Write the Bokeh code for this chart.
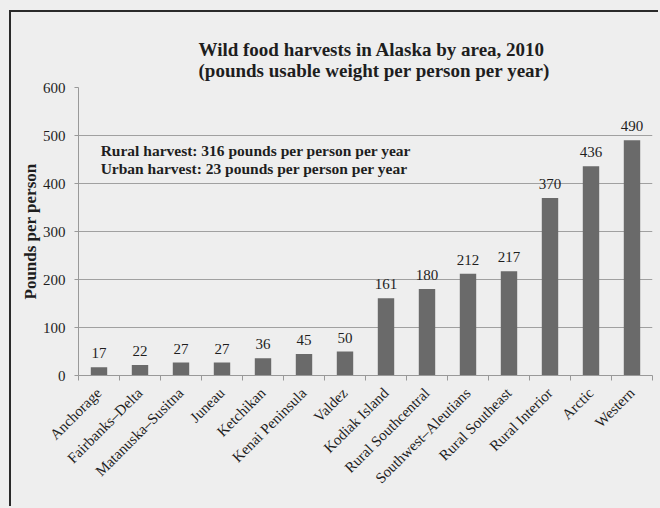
import math
from bokeh.plotting import figure
from bokeh.models import ColumnDataSource, Range1d, FixedTicker, Label, LabelSet, Title
from bokeh.embed import file_html
from bokeh.resources import INLINE

areas = ["Anchorage", "Fairbanks\u2013Delta", "Matanuska\u2013Susitna", "Juneau",
         "Ketchikan", "Kenai Peninsula", "Valdez", "Kodiak Island",
         "Rural Southcentral", "Southwest\u2013Aleutians", "Rural Southeast",
         "Rural Interior", "Arctic", "Western"]
pounds = [17, 22, 27, 27, 36, 45, 50, 161, 180, 212, 217, 370, 436, 490]
y_ticks = [0, 100, 200, 300, 400, 500, 600]
title1 = "Wild food harvests in Alaska by area, 2010"
title2 = "(pounds usable weight per person per year)"
note1 = "Rural harvest:  316 pounds per person per year"
note2 = "Urban harvest:  23 pounds per person per year"

SERIF = "Liberation Serif"
PAPER = "#eeeeee"
INK = "#1e1e1e"

centers = [i + 0.5 for i in range(len(areas))]
src = ColumnDataSource(dict(x=centers, top=pounds, lab=[str(v) for v in pounds]))

p = figure(width=649, height=496, output_backend="svg", toolbar_location=None,
           x_range=Range1d(0, len(areas)), y_range=Range1d(0, 600),
           min_border_left=67, min_border_right=8, min_border_top=75,
           min_border_bottom=133)
p.background_fill_color = PAPER
p.border_fill_color = PAPER
p.outline_line_color = None
p.styles = {"border-left": "2px solid #2a2a2a", "border-top": "2px solid #2a2a2a",
            "margin-left": "9px", "margin-top": "10px"}

p.vbar(x="x", top="top", width=0.4, bottom=0, source=src,
       fill_color="#6a6a6a", line_color=None)

p.add_layout(LabelSet(x="x", y="top", text="lab", source=src,
                      text_align="center", text_baseline="alphabetic",
                      y_offset=9, text_font=SERIF, text_font_size="15px",
                      text_color=INK))

# two-line title
p.add_layout(Title(text=title1 + "\n" + title2, align="left", offset=120,
                   standoff=14, text_font=SERIF, text_font_style="bold",
                   text_font_size="19px", text_color=INK), "above")

# grid
p.xgrid.visible = False
p.ygrid.ticker = FixedTicker(ticks=y_ticks)
p.ygrid.grid_line_color = "#a0a0a0"
p.ygrid.grid_line_width = 1

# y axis
ya = p.yaxis[0]
ya.ticker = FixedTicker(ticks=y_ticks)
ya.axis_line_color = "#999999"
ya.major_tick_line_color = "#999999"
ya.major_tick_out = 4
ya.major_tick_in = 0
ya.minor_tick_line_color = None
ya.major_label_text_font = SERIF
ya.major_label_text_font_size = "15px"
ya.major_label_text_color = INK
ya.major_label_standoff = 9
ya.axis_label = "Pounds per person"
ya.axis_label_text_font = SERIF
ya.axis_label_text_font_style = "bold"
ya.axis_label_text_font_size = "17px"
ya.axis_label_text_color = INK
ya.axis_label_standoff = 0

# x axis
xa = p.xaxis[0]
xa.ticker = FixedTicker(ticks=centers, minor_ticks=list(range(len(areas) + 1)))
xa.major_label_overrides = {c: a for c, a in zip(centers, areas)}
xa.major_label_orientation = math.pi / 4
xa.axis_line_color = "#999999"
xa.major_tick_out = 0
xa.major_tick_in = 0
xa.minor_tick_line_color = "#999999"
xa.minor_tick_out = 5
xa.minor_tick_in = 0
xa.major_label_text_font = SERIF
xa.major_label_text_font_size = "15px"
xa.major_label_text_color = INK
xa.major_label_standoff = 10

for txt, yy in ((note1, 469), (note2, 431)):
    p.add_layout(Label(x=0.54, y=yy, text=txt, text_align="left",
                       text_baseline="alphabetic", text_font=SERIF,
                       text_font_style="bold", text_font_size="15.5px",
                       text_color=INK))

html = file_html(p, INLINE)
html = html.replace("</head>", "<style>html, body { background: #eeeeee; }</style></head>", 1)
open("out.html", "w").write(html)
